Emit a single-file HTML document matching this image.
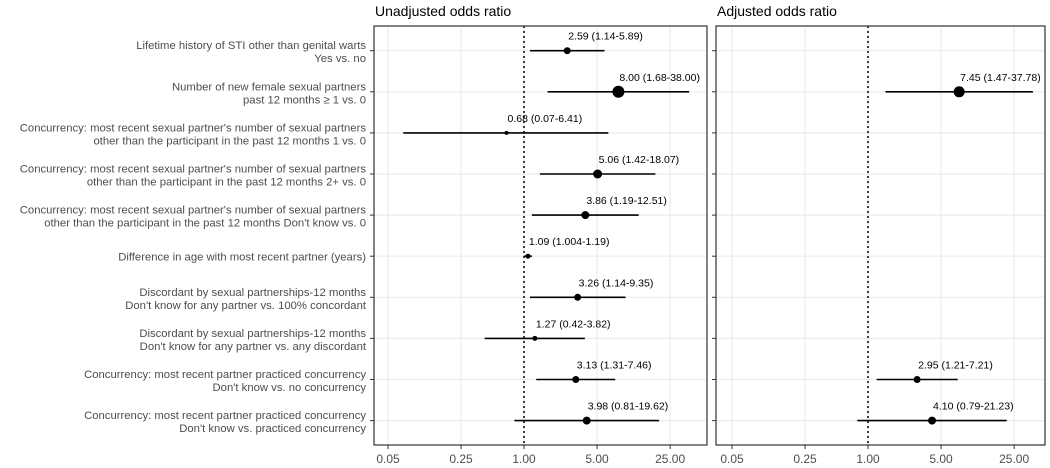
<!DOCTYPE html>
<html><head><meta charset="utf-8"><style>
html,body{margin:0;padding:0;background:#fff;}
svg{display:block;font-family:"Liberation Sans",Arial,sans-serif;}
</style></head><body>
<svg id="chart" width="1050" height="468"></svg>
<script>
const labels1 = ["Lifetime history of STI other than genital warts","Number of new female sexual partners","Concurrency: most recent sexual partner's number of sexual partners","Concurrency: most recent sexual partner's number of sexual partners","Concurrency: most recent sexual partner's number of sexual partners","Difference in age with most recent partner (years)","Discordant by sexual partnerships-12 months","Discordant by sexual partnerships-12 months","Concurrency: most recent partner practiced concurrency","Concurrency: most recent partner practiced concurrency"];
const labels2 = ["Yes vs. no","past 12 months \u2265 1 vs. 0","other than the participant in the past 12 months 1 vs. 0","other than the participant in the past 12 months 2+ vs. 0","other than the participant in the past 12 months Don't know vs. 0","","Don't know for any partner vs. 100% concordant","Don't know for any partner vs. any discordant","Don't know vs. no concurrency","Don't know vs. practiced concurrency"];
const unEst = [2.59,8.00,0.68,5.06,3.86,1.09,3.26,1.27,3.13,3.98];
const unLo  = [1.14,1.68,0.07,1.42,1.19,1.004,1.14,0.42,1.31,0.81];
const unHi  = [5.89,38.00,6.41,18.07,12.51,1.19,9.35,3.82,7.46,19.62];
const unLab = ["2.59 (1.14-5.89)","8.00 (1.68-38.00)","0.68 (0.07-6.41)","5.06 (1.42-18.07)","3.86 (1.19-12.51)","1.09 (1.004-1.19)","3.26 (1.14-9.35)","1.27 (0.42-3.82)","3.13 (1.31-7.46)","3.98 (0.81-19.62)"];
const unSize = [3.5,6,2,4.5,4,2.5,3.5,2.5,3.5,4];
const adRow = [1,8,9];
const adEst = [7.45,2.95,4.10];
const adLo  = [1.47,1.21,0.79];
const adHi  = [37.78,7.21,21.23];
const adLab = ["7.45 (1.47-37.78)","2.95 (1.21-7.21)","4.10 (0.79-21.23)"];
const adSize = [5.5,3.5,4];
const ticks = [0.05,0.25,1,5,25];
const tickLabels = ["0.05","0.25","1.00","5.00","25.00"];

const NS="http://www.w3.org/2000/svg";
const svg=document.getElementById('chart');
function mk(tag,attrs,parent){const e=document.createElementNS(NS,tag);for(const k in attrs)e.setAttribute(k,attrs[k]);(parent||svg).appendChild(e);return e;}
const yTop=26,yBot=445;
const rowY=i=>50.7+i*41.1;
const K=45.4;
const panels=[{x0:374,x1:707,c:524,title:"Unadjusted odds ratio",name:"unadjusted"},{x0:716,x1:1045,c:868,title:"Adjusted odds ratio",name:"adjusted"}];
panels.forEach((p,pi)=>{
  const sx=v=>p.c+K*Math.log(v);
  const g=mk('g',{});
  
  
  const t=mk('text',{x:p.x0+1,y:16,'font-size':14,fill:'#000'},g);t.textContent=p.title;
  
  
  ticks.forEach((v,i)=>{
    const x=sx(v);
    const gl=mk('line',{x1:x,x2:x,y1:yTop,y2:yBot,stroke:'#ebebeb','stroke-width':1.2},g);
    
    
    mk('line',{x1:x,x2:x,y1:yBot,y2:yBot+4,stroke:'#333','stroke-width':1},g);
    const tl=mk('text',{x:x,y:463,'font-size':12,fill:'#4d4d4d','text-anchor':'middle'},g);tl.textContent=tickLabels[i];
    
    
  });
  for(let i=0;i<10;i++){
    mk('line',{x1:p.x0,x2:p.x1,y1:rowY(i),y2:rowY(i),stroke:'#ebebeb','stroke-width':1.2},g);
    mk('line',{x1:p.x0-4,x2:p.x0,y1:rowY(i),y2:rowY(i),stroke:'#333','stroke-width':1},g);
  }
  const ref=mk('line',{x1:sx(1),x2:sx(1),y1:yTop,y2:yBot,stroke:'#000','stroke-width':1.5,'stroke-dasharray':'2,3'},g);
  
  
  const rows=pi===0?[0,1,2,3,4,5,6,7,8,9]:adRow;
  const est=pi===0?unEst:adEst, lo=pi===0?unLo:adLo, hi=pi===0?unHi:adHi, lab=pi===0?unLab:adLab, sz=pi===0?unSize:adSize;
  rows.forEach((r,j)=>{
    const y=rowY(r);
    const ci=mk('line',{x1:sx(lo[j]),x2:sx(hi[j]),y1:y,y2:y,stroke:'#000','stroke-width':1.6},g);
    
    
    const pt=mk('circle',{cx:sx(est[j]),cy:y,r:sz[j],fill:'#000'},g);
    
    
    const tx=mk('text',{x:sx(est[j])+1,y:y-11,'font-size':10.5,fill:'#000'},g);tx.textContent=lab[j];
    
    
  });
  const b=mk('rect',{x:p.x0,y:yTop,width:p.x1-p.x0,height:yBot-yTop,fill:'none',stroke:'#333','stroke-width':1.2},g);
  
  
});
for(let i=0;i<10;i++){
  const y=rowY(i);
  const t=mk('text',{x:366,'font-size':11.3,fill:'#4d4d4d','text-anchor':'end'});
  
  
  if(labels2[i]){
    const a=mk('tspan',{x:366,y:y-1.5},t);a.textContent=labels1[i];
    const b=mk('tspan',{x:366,y:y+11.5},t);b.textContent=labels2[i];
  } else {
    t.setAttribute('y',y+4.5);t.textContent=labels1[i];
  }
}
</script>
</body></html>
